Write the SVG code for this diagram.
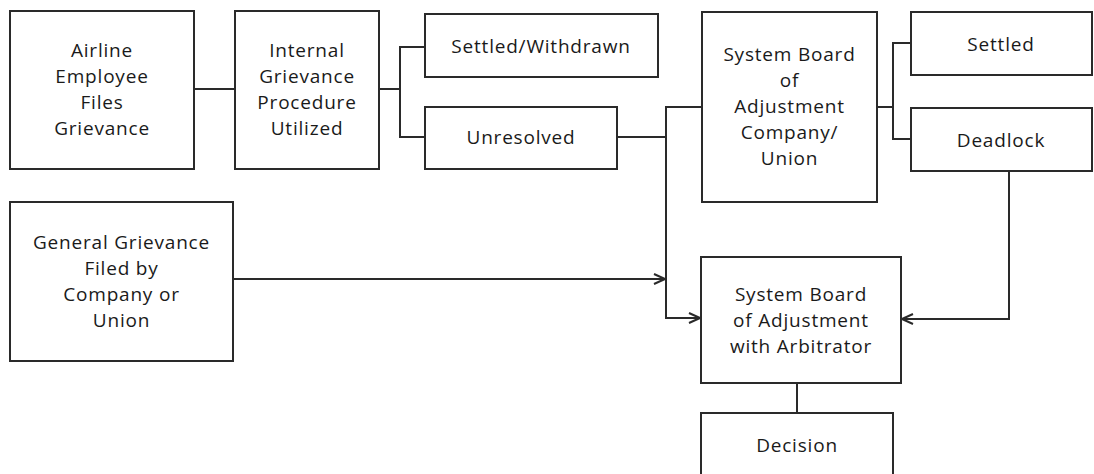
<svg xmlns="http://www.w3.org/2000/svg" width="1094" height="474" viewBox="0 0 1094 474">
<defs>
<style>
.box{fill:#fff;stroke:#2a2a2a;stroke-width:2}
.ln{fill:none;stroke:#2a2a2a;stroke-width:2}
text{font-family:"Open Sans","Liberation Sans",sans-serif;font-size:19px;letter-spacing:0.8px;fill:#1a1a1a;text-anchor:middle}
</style>
<marker id="arr" markerWidth="14" markerHeight="12" refX="12" refY="6" orient="auto" markerUnits="userSpaceOnUse">
<path d="M1,1 L12,6 L1,11" fill="none" stroke="#2a2a2a" stroke-width="2"/>
</marker>
</defs>
<rect width="1094" height="474" fill="#fff"/>
<g id="connectors">
<path class="ln" d="M194,89 H235"/>
<path class="ln" d="M379,89 H400 M425,47 H400 V137 H425"/>
<path class="ln" d="M617,137 H666 M702,107 H666 V318 H700" marker-end="url(#arr)"/>
<path class="ln" d="M233,279 H665" marker-end="url(#arr)"/>
<path class="ln" d="M877,107 H893 M911,43 H893 V139 H911"/>
<path class="ln" d="M1009,171 V319 H902" marker-end="url(#arr)"/>
<path class="ln" d="M797,383 V413"/>
</g>
<g id="n-airline">
<rect class="box" x="10" y="11" width="184" height="158"/>
<text x="102" y="57">Airline</text>
<text x="102" y="83">Employee</text>
<text x="102" y="109">Files</text>
<text x="102" y="135">Grievance</text>
</g>
<g id="n-internal">
<rect class="box" x="235" y="11" width="144" height="158"/>
<text x="307" y="57">Internal</text>
<text x="307" y="83">Grievance</text>
<text x="307" y="109">Procedure</text>
<text x="307" y="135">Utilized</text>
</g>
<g id="n-settled-withdrawn">
<rect class="box" x="425" y="14" width="233" height="63"/>
<text x="541" y="53">Settled/Withdrawn</text>
</g>
<g id="n-unresolved">
<rect class="box" x="425" y="107" width="192" height="62"/>
<text x="521" y="144">Unresolved</text>
</g>
<g id="n-sba-cu">
<rect class="box" x="702" y="12" width="175" height="190"/>
<text x="789.5" y="61">System Board</text>
<text x="789.5" y="87">of</text>
<text x="789.5" y="113">Adjustment</text>
<text x="789.5" y="139">Company/</text>
<text x="789.5" y="165">Union</text>
</g>
<g id="n-settled">
<rect class="box" x="911" y="12" width="181" height="63"/>
<text x="1001" y="51">Settled</text>
</g>
<g id="n-deadlock">
<rect class="box" x="911" y="108" width="181" height="63"/>
<text x="1001" y="147">Deadlock</text>
</g>
<g id="n-general">
<rect class="box" x="10" y="202" width="223" height="159"/>
<text x="121.5" y="249">General Grievance</text>
<text x="121.5" y="275">Filed by</text>
<text x="121.5" y="301">Company or</text>
<text x="121.5" y="327">Union</text>
</g>
<g id="n-arbitrator">
<rect class="box" x="701" y="257" width="200" height="126"/>
<text x="801" y="301">System Board</text>
<text x="801" y="327">of Adjustment</text>
<text x="801" y="353">with Arbitrator</text>
</g>
<g id="n-decision">
<rect class="box" x="701" y="413" width="192" height="66"/>
<text x="797" y="452">Decision</text>
</g>
</svg>
